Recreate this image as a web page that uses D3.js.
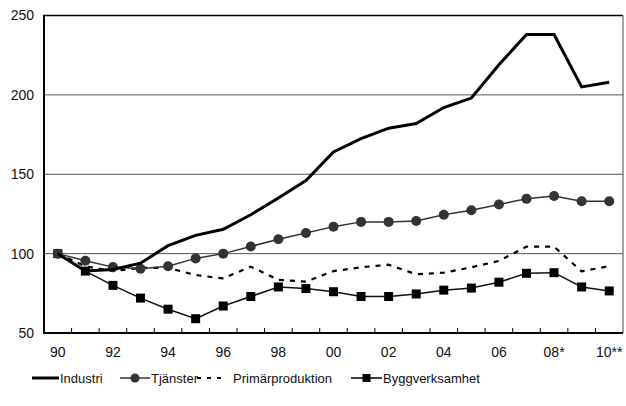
<!DOCTYPE html>
<html><head><meta charset="utf-8">
<script src="https://cdn.jsdelivr.net/npm/d3@7"></script>
<style>
html,body{margin:0;padding:0;background:#fff;}
svg{display:block;font-family:"Liberation Sans",Arial,Helvetica,sans-serif;}
</style></head>
<body>
<svg id="c" width="626" height="406"></svg>
<script>
const categories = ["90","91","92","93","94","95","96","97","98","99","00","01","02","03","04","05","06","07","08*","09","10**"];
const tickLabels = ["90","92","94","96","98","00","02","04","06","08*","10**"];
const yTicks = [50,100,150,200,250];
const industri = [100,89,90,94,105,111.5,115.3,124.5,135,146,164,172.5,179,182,192,198,219,238,238,205,208];
const tjanster = [100,95.5,91.5,90.5,92,97,100,104.5,109,113,117,120,120,120.6,124.5,127.3,131,134.5,136.3,133,133];
const primar = [100,92,89,91,91,86.5,84.4,91.8,83.5,82.3,89,91.4,93,87,88,91.4,95.4,104.4,104.4,88.8,92.2];
const bygg = [100,89,80,72,65,59,67,73,79,78,76,73,73,74.6,77,78.3,82,87.6,88,79,76.5];
const seriesNames = ["Industri","Tjänster","Primärproduktion","Byggverksamhet"];

const svg = d3.select("#c");
const L = 44, R = 623, T = 15.5, B = 333;
const x = d3.scaleBand().domain(categories).range([L, R]).padding(0);
const cx = d => x(d) + x.bandwidth()/2;
const y = d3.scaleLinear().domain([50,250]).range([B, T]);

// gridlines
svg.append("g").selectAll("line").data(yTicks.filter(v => v>50 && v<250)).join("line")
  .attr("x1", L).attr("x2", R).attr("y1", d=>y(d)).attr("y2", d=>y(d))
  .attr("stroke", "#555").attr("stroke-width", 1);
// top border
svg.append("line").attr("x1", L).attr("x2", R).attr("y1", y(250)).attr("y2", y(250))
  .attr("stroke", "#000").attr("stroke-width", 1.5);
// right border
svg.append("line").attr("x1", R).attr("x2", R).attr("y1", y(250)).attr("y2", y(50))
  .attr("stroke", "#444").attr("stroke-width", 1);

// y axis
const yAxis = svg.append("g").attr("transform", `translate(${L},0)`)
  .call(d3.axisLeft(y).tickValues(yTicks).tickSize(0).tickPadding(10));
yAxis.select(".domain").remove();
yAxis.selectAll("text").attr("font-size", 14).attr("fill", "#111").attr("font-family", "Liberation Sans, Arial, sans-serif");
svg.append("line").attr("x1", L).attr("x2", L).attr("y1", y(250)-0.75).attr("y2", y(50)+1)
  .attr("stroke", "#000").attr("stroke-width", 2);

// x axis
const xAxis = svg.append("g").attr("transform", `translate(0,${B})`)
  .call(d3.axisBottom(x).tickValues(tickLabels).tickSize(0).tickPadding(14));
xAxis.select(".domain").remove();
xAxis.selectAll("text").attr("font-size", 14).attr("fill", "#111").attr("font-family", "Liberation Sans, Arial, sans-serif");
// category boundary ticks (inward)
svg.append("g").selectAll("line").data(categories.slice(1)).join("line")
  .attr("x1", d=>x(d)).attr("x2", d=>x(d)).attr("y1", B).attr("y2", B-5)
  .attr("stroke", "#000").attr("stroke-width", 1);
svg.append("line").attr("x1", L-1).attr("x2", R).attr("y1", B).attr("y2", B)
  .attr("stroke", "#000").attr("stroke-width", 2);

const line = d3.line().x((d,i)=>cx(categories[i])).y(d=>y(d));

// Byggverksamhet
svg.append("path").datum(bygg).attr("d", line).attr("fill","none").attr("stroke","#111").attr("stroke-width",1.5);
svg.append("g").selectAll("rect").data(bygg).join("rect")
  .attr("x",(d,i)=>cx(categories[i])-4.5).attr("y",d=>y(d)-4.5).attr("width",9).attr("height",9).attr("fill","#000");
// Primärproduktion
svg.append("path").datum(primar).attr("d", line).attr("fill","none").attr("stroke","#000").attr("stroke-width",2.2).attr("stroke-dasharray","5,6");
// Tjänster
svg.append("path").datum(tjanster).attr("d", line).attr("fill","none").attr("stroke","#333").attr("stroke-width",1.5);
svg.append("g").selectAll("circle").data(tjanster).join("circle")
  .attr("cx",(d,i)=>cx(categories[i])).attr("cy",d=>y(d)).attr("r",5).attr("fill","#333");
// Industri
svg.append("path").datum(industri).attr("d", line).attr("fill","none").attr("stroke","#000").attr("stroke-width",3).attr("stroke-linejoin","miter");

// legend
const ly = 378;
const lg = svg.append("g").attr("font-size", 13).attr("fill", "#111");
const items = [
  {name: seriesNames[0], x1: 32, x2: 59, tx: 60, type: "thick"},
  {name: seriesNames[1], x1: 120, x2: 150, tx: 151, type: "circle"},
  {name: seriesNames[2], x1: 197, x2: 225, tx: 233, type: "dash"},
  {name: seriesNames[3], x1: 351, x2: 382, tx: 383, type: "square"}
];
items.forEach(it => {
  const g = lg.append("g");
  const ln = g.append("line").attr("x1", it.x1).attr("x2", it.x2).attr("y1", ly).attr("y2", ly).attr("stroke", "#000");
  if (it.type === "thick") ln.attr("stroke-width", 3);
  if (it.type === "circle") { ln.attr("stroke-width", 1.5).attr("stroke","#333"); g.append("circle").attr("cx",(it.x1+it.x2)/2).attr("cy",ly).attr("r",4.5).attr("fill","#333"); }
  if (it.type === "dash") ln.attr("stroke-width", 2).attr("stroke-dasharray","4,6");
  if (it.type === "square") { ln.attr("stroke-width", 1.5); g.append("rect").attr("x",(it.x1+it.x2)/2-4).attr("y",ly-4).attr("width",8).attr("height",8).attr("fill","#000"); }
  g.append("text").attr("x", it.tx).attr("y", ly).attr("dy","0.35em").text(it.name);
});
</script>
</body></html>
